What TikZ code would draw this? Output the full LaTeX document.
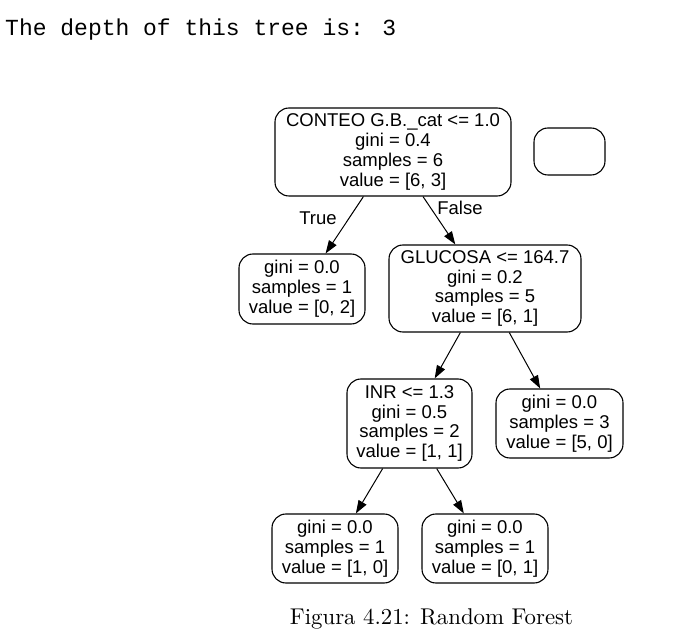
\documentclass[tikz,border=0pt]{standalone}
\usepackage{fontspec}
\newfontfamily\arialfont{Liberation Sans}
\newfontfamily\courierfont{Liberation Mono}
\usetikzlibrary{arrows.meta, shapes}

\tikzset{
  treebox/.style={draw, rounded corners=14pt, line width=1.1pt, align=center,
    inner sep=0pt, font=\arialfont\fontsize{18.5}{19.8}\selectfont},
  branch/.style={line width=1pt, -{Triangle[length=13pt, width=9pt]}},
  edgelabel/.style={font=\arialfont\fontsize{18.5}{20}\selectfont}
}

\begin{document}
\begin{tikzpicture}[x=1pt, y=-1pt]
\useasboundingbox (0,0) rectangle (697,636);

\node[anchor=base west, inner sep=0pt, font=\courierfont\fontsize{23}{23}\selectfont] (depth) at (5,36) {The depth of this tree is: 3};

\node[treebox, minimum width=236, minimum height=88] (root)  at (393,152)   {CONTEO G.B.\_cat <= 1.0\\gini = 0.4\\samples = 6\\value = [6, 3]};
\node[treebox, minimum width=71,  minimum height=47] (blank) at (569.5,151.5) {};
\node[treebox, minimum width=126, minimum height=70] (leafA) at (302,289)   {gini = 0.0\\samples = 1\\value = [0, 2]};
\node[treebox, minimum width=192, minimum height=87] (gluc)  at (485,288.5) {GLUCOSA <= 164.7\\gini = 0.2\\samples = 5\\value = [6, 1]};
\node[treebox, minimum width=125, minimum height=89] (inr)   at (409.5,423.5) {INR <= 1.3\\gini = 0.5\\samples = 2\\value = [1, 1]};
\node[treebox, minimum width=127, minimum height=69] (leafB) at (559.5,423.5) {gini = 0.0\\samples = 3\\value = [5, 0]};
\node[treebox, minimum width=126, minimum height=69] (leafC) at (335,548.5) {gini = 0.0\\samples = 1\\value = [1, 0]};
\node[treebox, minimum width=126, minimum height=69] (leafD) at (485,548.5) {gini = 0.0\\samples = 1\\value = [0, 1]};

\draw[branch] (root) -- (leafA);
\draw[branch] (root) -- (gluc);
\draw[branch] (gluc) -- (inr);
\draw[branch] (gluc) -- (leafB);
\draw[branch] (inr) -- (leafC);
\draw[branch] (inr) -- (leafD);

% branch labels
\node[edgelabel] (truelbl)  at (318,218) {True};
\node[edgelabel] (falselbl) at (460,208) {False};

\node[anchor=base, inner sep=0pt] (caption) at (431.5,624) {\resizebox{283pt}{!}{Figura 4.21: Random Forest}};

\end{tikzpicture}
\end{document}
